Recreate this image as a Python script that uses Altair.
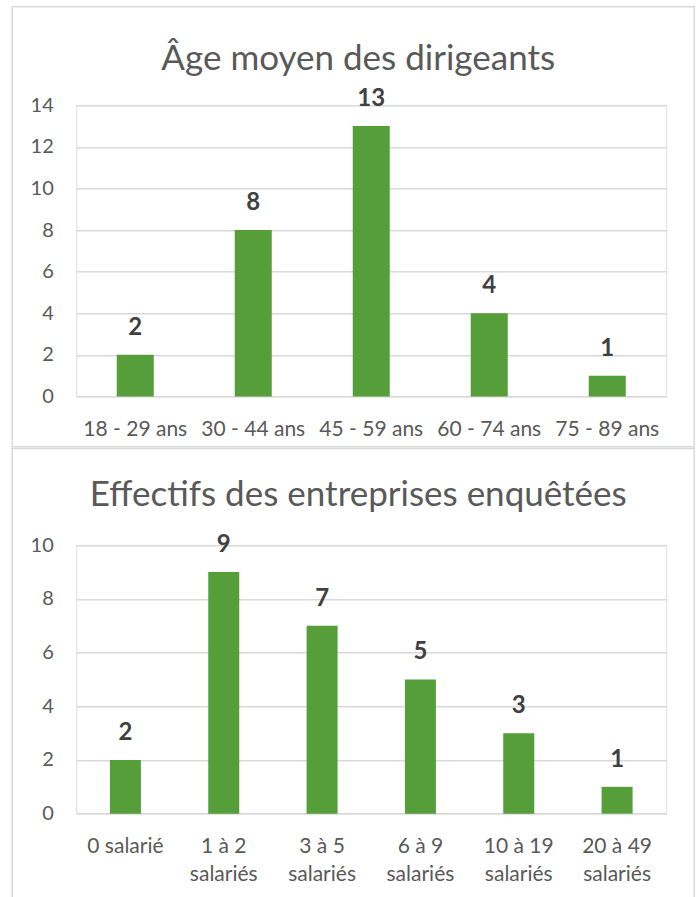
import altair as alt
import pandas as pd

# ---- data ----
age_categories = ["18 - 29 ans", "30 - 44 ans", "45 - 59 ans", "60 - 74 ans", "75 - 89 ans"]
age_values = [2, 8, 13, 4, 1]
age_title = "Âge moyen des dirigeants"
age_ticks = [0, 2, 4, 6, 8, 10, 12, 14]

eff_categories = ["0 salarié", "1 à 2 salariés", "3 à 5 salariés", "6 à 9 salariés",
                  "10 à 19 salariés", "20 à 49 salariés"]
eff_values = [2, 9, 7, 5, 3, 1]
eff_title = "Effectifs des entreprises enquêtées"
eff_ticks = [0, 2, 4, 6, 8, 10]

FONT = "Lato"
BAR = "#559E3A"
GRID = "#d9d9d9"
AXIS_TXT = "#595959"
LBL_TXT = "#404040"
PLOT_W = 590


def panel(categories, values, ticks, title, height, bar_size, border_top, border_bottom, title_y):
    df = pd.DataFrame({"cat": categories, "val": values})
    x = alt.X("cat:N", sort=categories,
              scale=alt.Scale(paddingInner=0, paddingOuter=0),
              axis=alt.Axis(labelAngle=0, domain=False, ticks=False, tickSize=0,
                            labelPadding=22, labelFont=FONT, labelFontSize=21,
                            labelColor=AXIS_TXT, title=None, grid=False,
                            labelLineHeight=28,
                            labelExpr="indexof(datum.label, 'salariés') > 0 ? "
                                      "[replace(datum.label, ' salariés', ''), 'salariés'] : datum.label"))
    y = alt.Y("val:Q",
              scale=alt.Scale(domain=[ticks[0], ticks[-1]], nice=False),
              axis=alt.Axis(values=ticks, grid=True, gridColor=GRID, gridWidth=1.3,
                            domain=False, ticks=False, tickSize=0, labelPadding=23,
                            labelFont=FONT, labelFontSize=20, labelColor=AXIS_TXT,
                            title=None))
    base = alt.Chart(df)
    bars = base.mark_bar(size=bar_size, color=BAR).encode(x=x, y=y)
    labels = base.mark_text(baseline="alphabetic", dy=-20, font=FONT, fontSize=24,
                            fontWeight="bold", color=LBL_TXT).encode(
        x=alt.X("cat:N", sort=categories), y="val:Q", text="val:Q")
    ttl = alt.Chart(pd.DataFrame({"t": [title]})).mark_text(
        font=FONT, fontSize=35, color=AXIS_TXT, baseline="alphabetic", align="center"
    ).encode(text="t:N", x=alt.value(282), y=alt.value(title_y))
    border = alt.Chart(pd.DataFrame({"b": [0]})).mark_rect(
        fillOpacity=0, stroke=GRID, strokeWidth=1.5
    ).encode(x=alt.value(-64), x2=alt.value(618),
             y=alt.value(border_top), y2=alt.value(border_bottom))
    return alt.layer(border, bars, labels, ttl).properties(width=PLOT_W, height=height)


top = panel(age_categories, age_values, age_ticks, age_title,
            291.2, 37, -98.4, 341.6, -35)
bottom = panel(eff_categories, eff_values, eff_ticks, eff_title,
               268.4, 31, -96.8, 380, -39)

chart = alt.vconcat(top, bottom, spacing=-2).properties(
    padding={"left": 10.25, "top": 5.25, "right": 0, "bottom": 0}
).configure_view(strokeWidth=0).configure(background="white")

chart.save("out.html", embed_options={"renderer": "svg", "actions": False})
